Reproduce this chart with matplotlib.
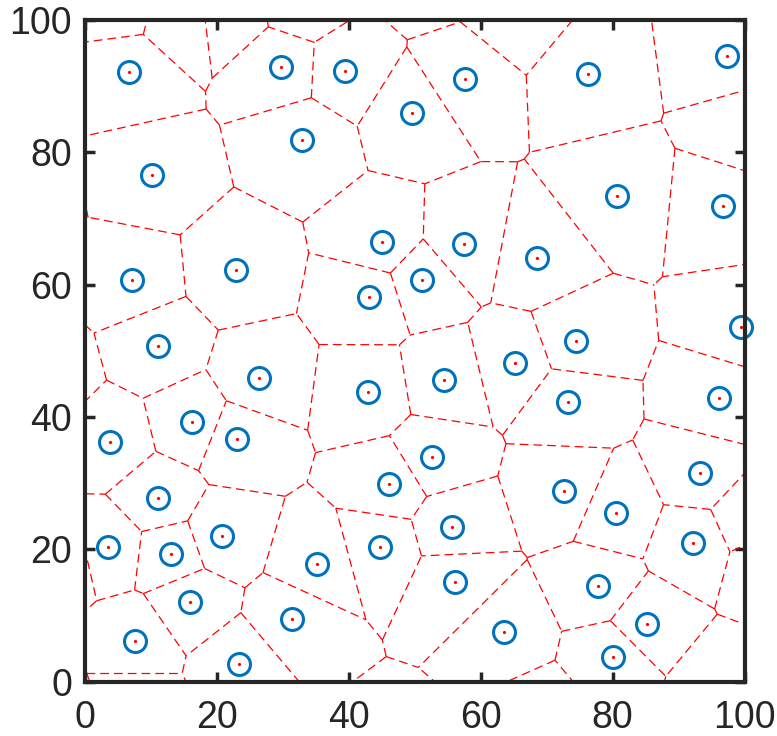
import numpy as np
import matplotlib
matplotlib.use("Agg")
import matplotlib.pyplot as plt
import matplotlib.tri as mtri

# ---- data: seed points visible inside the axes ----
pts_x = [6.71, 29.7, 32.97, 10.15, 39.44, 57.58, 49.64, 76.26, 97.27, 80.65, 96.67,
         7.12, 22.97, 11.06, 26.41, 16.3, 3.83, 23.03,
         45.09, 57.47, 51.11, 43.03, 65.24, 54.44, 42.98,
         68.58, 99.39, 74.39, 96.11, 73.23,
         11.06, 20.8, 3.53, 13.03, 16.0, 31.41, 7.58, 23.38,
         52.67, 46.15, 55.7, 44.74, 35.24, 56.1, 63.53,
         93.23, 72.67, 80.55, 92.17, 77.77, 85.15, 80.1]
pts_y = [92.1, 92.85, 81.86, 76.57, 92.34, 91.08, 85.94, 91.84, 94.6, 73.44, 71.88,
         60.7, 62.2, 50.77, 45.93, 39.28, 36.25, 36.6,
         66.49, 66.14, 60.7, 58.13, 48.2, 45.58, 43.71,
         64.02, 53.64, 51.47, 42.9, 42.3,
         27.7, 22.0, 20.38, 19.23, 11.97, 9.4, 6.17, 2.6,
         33.9, 29.9, 23.4, 20.33, 17.76, 15.04, 7.53,
         31.47, 28.85, 25.42, 20.99, 14.39, 8.74, 3.7]

# ---- seed points lying just outside the axes limits (shape the border cells) ----
out_x = [5.3, 14.4, 21.9, 33.0, 52.2, 65.5, 100.4, 100.4, 103.3, 96.4,
         69.3, 47.1, 7.58, -2.1, -3.3, -6.0, -10.9, -5.6]
out_y = [102.8, 100.5, 101.4, 102.7, 107.0, 100.9, 83.5, 24.75, 18.0, -0.6,
         -5.4, -11.5, -3.5, -7.1, 18.8, 46.2, 72.0, 102.0]

xticks = [0, 20, 40, 60, 80, 100]
yticks = [0, 20, 40, 60, 80, 100]

TXT = "#262626"
BLUE = "#0072BD"

X = np.array(pts_x + out_x, dtype=float)
Y = np.array(pts_y + out_y, dtype=float)

# Delaunay triangulation -> Voronoi edges
tri = mtri.Triangulation(X, Y)
T = tri.triangles
NB = tri.neighbors
ax_, ay_ = X[T[:, 0]], Y[T[:, 0]]
bx_, by_ = X[T[:, 1]], Y[T[:, 1]]
cx_, cy_ = X[T[:, 2]], Y[T[:, 2]]
d = 2 * (ax_ * (by_ - cy_) + bx_ * (cy_ - ay_) + cx_ * (ay_ - by_))
ux = ((ax_**2 + ay_**2) * (by_ - cy_) + (bx_**2 + by_**2) * (cy_ - ay_) + (cx_**2 + cy_**2) * (ay_ - by_)) / d
uy = ((ax_**2 + ay_**2) * (cx_ - bx_) + (bx_**2 + by_**2) * (ax_ - cx_) + (cx_**2 + cy_**2) * (bx_ - ax_)) / d

segments = []
for t in range(len(T)):
    for k in range(3):
        nb = NB[t, k]
        if nb > t:
            segments.append(((ux[t], uy[t]), (ux[nb], uy[nb])))
        elif nb == -1:
            p = np.array([X[T[t, k]], Y[T[t, k]]])
            q = np.array([X[T[t, (k + 1) % 3]], Y[T[t, (k + 1) % 3]]])
            r = np.array([X[T[t, (k + 2) % 3]], Y[T[t, (k + 2) % 3]]])
            e = q - p
            n = np.array([e[1], -e[0]])
            if np.dot(n, r - p) > 0:
                n = -n
            n = n / np.linalg.norm(n)
            c = np.array([ux[t], uy[t]])
            segments.append((tuple(c), tuple(c + 1000 * n)))

fig = plt.figure(figsize=(7.77, 7.36), dpi=100)
ax = fig.add_axes([0.109, 0.074, 0.8494, 0.8988])

for (p0, p1) in segments:
    ax.plot([p0[0], p1[0]], [p0[1], p1[1]], color="red", lw=0.9,
            linestyle=(0, (7, 4)), zorder=2)

inside = (X >= 0) & (X <= 100) & (Y >= 0) & (Y <= 100)
ax.plot(X[inside], Y[inside], linestyle="none", marker="o", ms=15.8, mfc="none",
        mec=BLUE, mew=2.2, clip_on=False, zorder=3)
ax.plot(X[inside], Y[inside], linestyle="none", marker="o", ms=2.3, mfc="red",
        mec="none", clip_on=False, zorder=4)

ax.set_xlim(0, 100)
ax.set_ylim(0, 100)
ax.set_xticks(xticks)
ax.set_yticks(yticks)
ax.set_xticklabels([str(v) for v in xticks])
ax.set_yticklabels([str(v) for v in yticks])
for s in ax.spines.values():
    s.set_linewidth(3.0)
    s.set_color(TXT)
    s.set_zorder(5)
ax.tick_params(direction="in", length=7, width=2.5, colors=TXT, labelsize=27,
               top=True, right=True, pad=9)
ax.tick_params(axis="x", pad=13)
for lab in ax.get_xticklabels() + ax.get_yticklabels():
    lab.set_family(["Liberation Sans", "DejaVu Sans"])

fig.savefig("out.png", dpi=100, facecolor="white")
